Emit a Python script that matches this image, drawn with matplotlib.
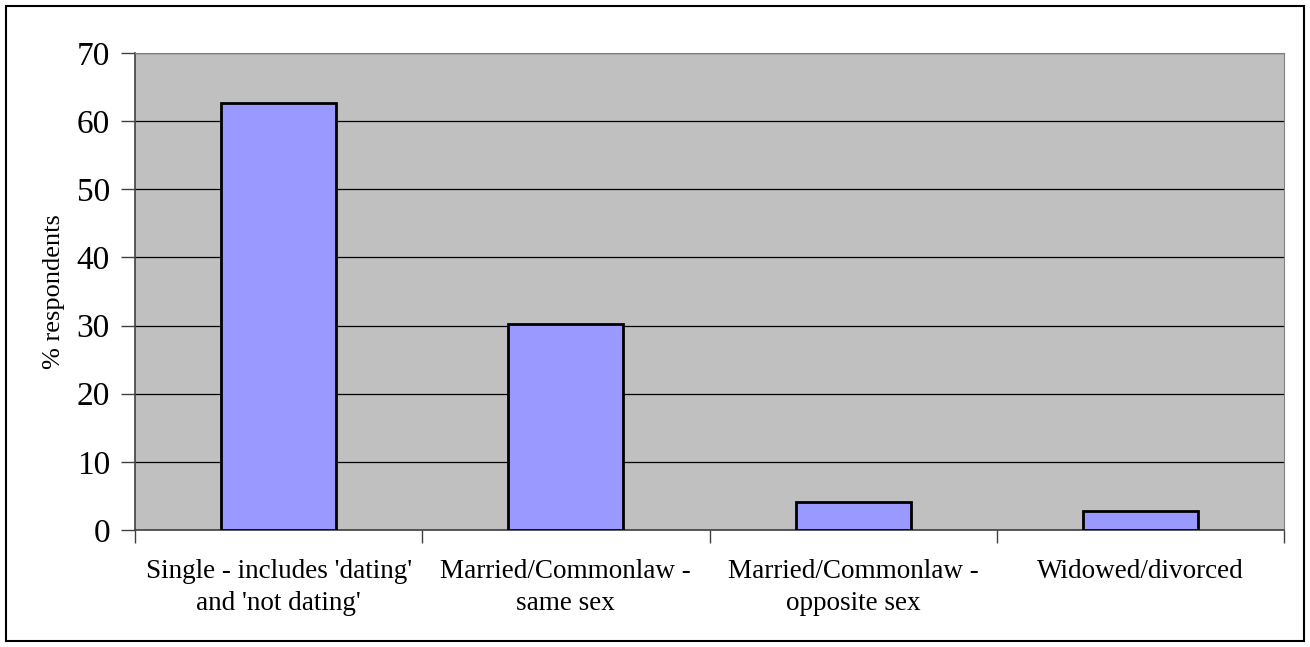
"""Bar chart of respondents by relationship status"""

import matplotlib
matplotlib.use('Agg')
import matplotlib.pyplot as plt
from matplotlib.patches import Rectangle

categories = ["Single - includes 'dating'\nand 'not dating'",
              "Married/Commonlaw -\nsame sex",
              "Married/Commonlaw -\nopposite sex",
              "Widowed/divorced"]
percent = [62.6, 30.3, 4.15, 2.8]
y_ticks = [0, 10, 20, 30, 40, 50, 60, 70]

plt.rcParams['font.family'] = ['Liberation Serif', 'DejaVu Serif']

fig = plt.figure(figsize=(13.1, 6.47), dpi=100)
ax = fig.add_axes([135 / 1310, 117 / 647, 1149 / 1310, 477 / 647])
ax.set_facecolor('#C0C0C0')

x = list(range(len(categories)))
ax.bar(x, percent, width=0.40, color='#9999FF', edgecolor='black', linewidth=2, zorder=3)

# Gridlines and axis range
ax.set_ylim(0, 70)
ax.set_xlim(-0.5, len(categories) - 0.5)
ax.set_yticks(y_ticks)
ax.yaxis.grid(True, color='black', linewidth=0.9, zorder=1)
ax.set_axisbelow(True)

ax.tick_params(axis='y', labelsize=24, length=10, width=1, color='#404040', pad=8)
ax.set_xticks(x)
ax.set_xticklabels(categories, fontsize=19.5, linespacing=1.34)
ax.tick_params(axis='x', which='major', length=0, pad=21)
ax.set_xticks([i - 0.5 for i in range(len(categories) + 1)], minor=True)
ax.tick_params(axis='x', which='minor', length=9, width=1, color='#404040')

ax.set_ylabel('% respondents', fontsize=19)
ax.yaxis.set_label_coords(-0.061, 0.5)

for side in ['top', 'right']:
    ax.spines[side].set_color('#808080')
for side in ['left', 'bottom']:
    ax.spines[side].set_color('#404040')
    ax.spines[side].set_linewidth(1.2)

# Outer border around the whole chart
fig.patches.append(Rectangle((6 / 1310, 6 / 647), 1298 / 1310, 635 / 647,
                             transform=fig.transFigure, fill=False,
                             edgecolor='black', linewidth=1.5))

fig.savefig('out.png', dpi=100)
